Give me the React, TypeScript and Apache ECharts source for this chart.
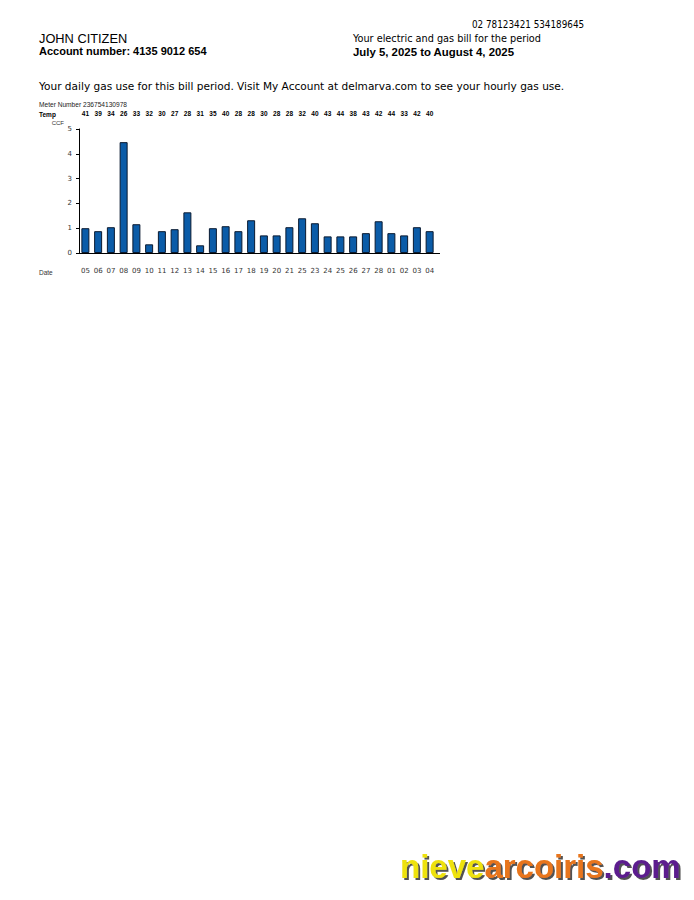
import React, { useEffect, useRef } from "react";
import * as echarts from "echarts";

const dates = ["05","06","07","08","09","10","11","12","13","14","15","16","17","18","19","20","21","25","23","24","25","26","27","28","01","02","03","04"];
const temps = ["41","39","34","26","33","32","30","27","28","31","35","40","28","28","30","28","28","32","40","43","44","38","43","42","44","33","42","40"];
const ccf = [1.0,0.88,1.04,4.47,1.16,0.35,0.88,0.96,1.64,0.31,1.0,1.08,0.88,1.32,0.71,0.71,1.04,1.4,1.2,0.67,0.67,0.67,0.8,1.28,0.8,0.71,1.04,0.88];
const yTicks = [0, 5, 1];

const ARIAL = "Liberation Sans, Arial, sans-serif";
const VERD = "DejaVu Sans, Verdana, sans-serif";
const TAHOMA = "DejaVu Sans Condensed, DejaVu Sans, sans-serif";

function txt(x: number, y: number, text: string, fontSize: number, fontFamily: string, fontWeight: string = "normal", fill = "#000", align = "left") {
  return {
    type: "text", x, y,
    style: { text, fontSize, fontFamily, fontWeight, fill, align, verticalAlign: "middle" },
  };
}

const shadow = { textShadowColor: "rgba(40,40,40,0.8)", textShadowOffsetX: 2, textShadowOffsetY: 2, textShadowBlur: 1 };

export default function App() {
  const ref = useRef<HTMLDivElement>(null);
  useEffect(() => {
    const chart = echarts.init(ref.current!, null, { renderer: "svg" });
    chart.setOption({
      animation: false,
      backgroundColor: "#fff",
      grid: { left: 79, top: 129, width: 357, height: 124, containLabel: false },
      xAxis: [
        {
          type: "category", data: dates, position: "bottom",
          axisLine: { show: true, lineStyle: { color: "#000", width: 1 } },
          axisTick: { show: false },
          axisLabel: { fontSize: 7, color: "#333", margin: 14, fontFamily: VERD, interval: 0 },
        },
        {
          type: "category", data: dates, position: "top",
          axisLine: { show: false }, axisTick: { show: false },
          axisLabel: {
            fontSize: 6.5, color: "#000", fontWeight: "bold", fontFamily: ARIAL, margin: 12, interval: 0,
            formatter: (_v: string, i: number) => temps[i],
          },
        },
      ],
      yAxis: {
        type: "value", min: yTicks[0], max: yTicks[1], interval: yTicks[2],
        name: "CCF", nameLocation: "end", nameGap: 3,
        nameTextStyle: { fontSize: 6, color: "#333", fontFamily: ARIAL, align: "right", padding: [0, 15, 0, 0] },
        axisLine: { show: true, lineStyle: { color: "#000", width: 1 } },
        axisTick: { show: true, length: 3, lineStyle: { color: "#000" } },
        axisLabel: { fontSize: 7, color: "#333", margin: 7, fontFamily: VERD },
        splitLine: { show: false },
      },
      series: [
        {
          type: "bar", data: ccf, xAxisIndex: 0, barWidth: 8,
          itemStyle: { color: "#0b5ca8", borderColor: "#0a1a30", borderWidth: 1 },
        },
      ],
      graphic: [
        txt(472, 24, "02 78123421 534189645", 9.8, TAHOMA),
        txt(39, 38, "JOHN CITIZEN", 12.8, ARIAL),
        txt(39, 51, "Account number: 4135 9012 654", 11, ARIAL, "bold"),
        txt(353, 38, "Your electric and gas bill for the period", 10.8, TAHOMA),
        txt(353, 52, "July 5, 2025 to August 4, 2025", 11.4, ARIAL, "bold"),
        txt(39, 86, "Your daily gas use for this bill period. Visit My Account at delmarva.com to see your hourly gas use.", 10.55, VERD),
        txt(39, 104, "Meter Number 236754130978", 6.6, ARIAL, "normal", "#222"),
        txt(39, 114, "Temp", 6.5, ARIAL, "bold"),
        txt(39, 272, "Date", 6.5, ARIAL, "normal", "#333"),
        {
          type: "line", shape: { x1: 436, y1: 253.5, x2: 440, y2: 253.5 },
          style: { stroke: "#000", lineWidth: 1 },
        },
        {
          type: "text", x: 400, y: 866,
          style: {
            text: "{a|nieve}{b|arcoiris}{c|.com}",
            verticalAlign: "middle",
            fontFamily: ARIAL, fontWeight: "bold", fontSize: 33, ...shadow,
            rich: {
              a: { fill: "#eee210", fontFamily: ARIAL, fontWeight: "bold", fontSize: 33, ...shadow },
              b: { fill: "#e8751a", fontFamily: ARIAL, fontWeight: "bold", fontSize: 33, ...shadow },
              c: { fill: "#5b1e8e", fontFamily: ARIAL, fontWeight: "bold", fontSize: 33, ...shadow },
            },
          },
        },
      ],
    });
    return () => chart.dispose();
  }, []);
  return <div ref={ref} style={{ position: "absolute", left: 0, top: 0, width: 694, height: 900 }} />;
}
